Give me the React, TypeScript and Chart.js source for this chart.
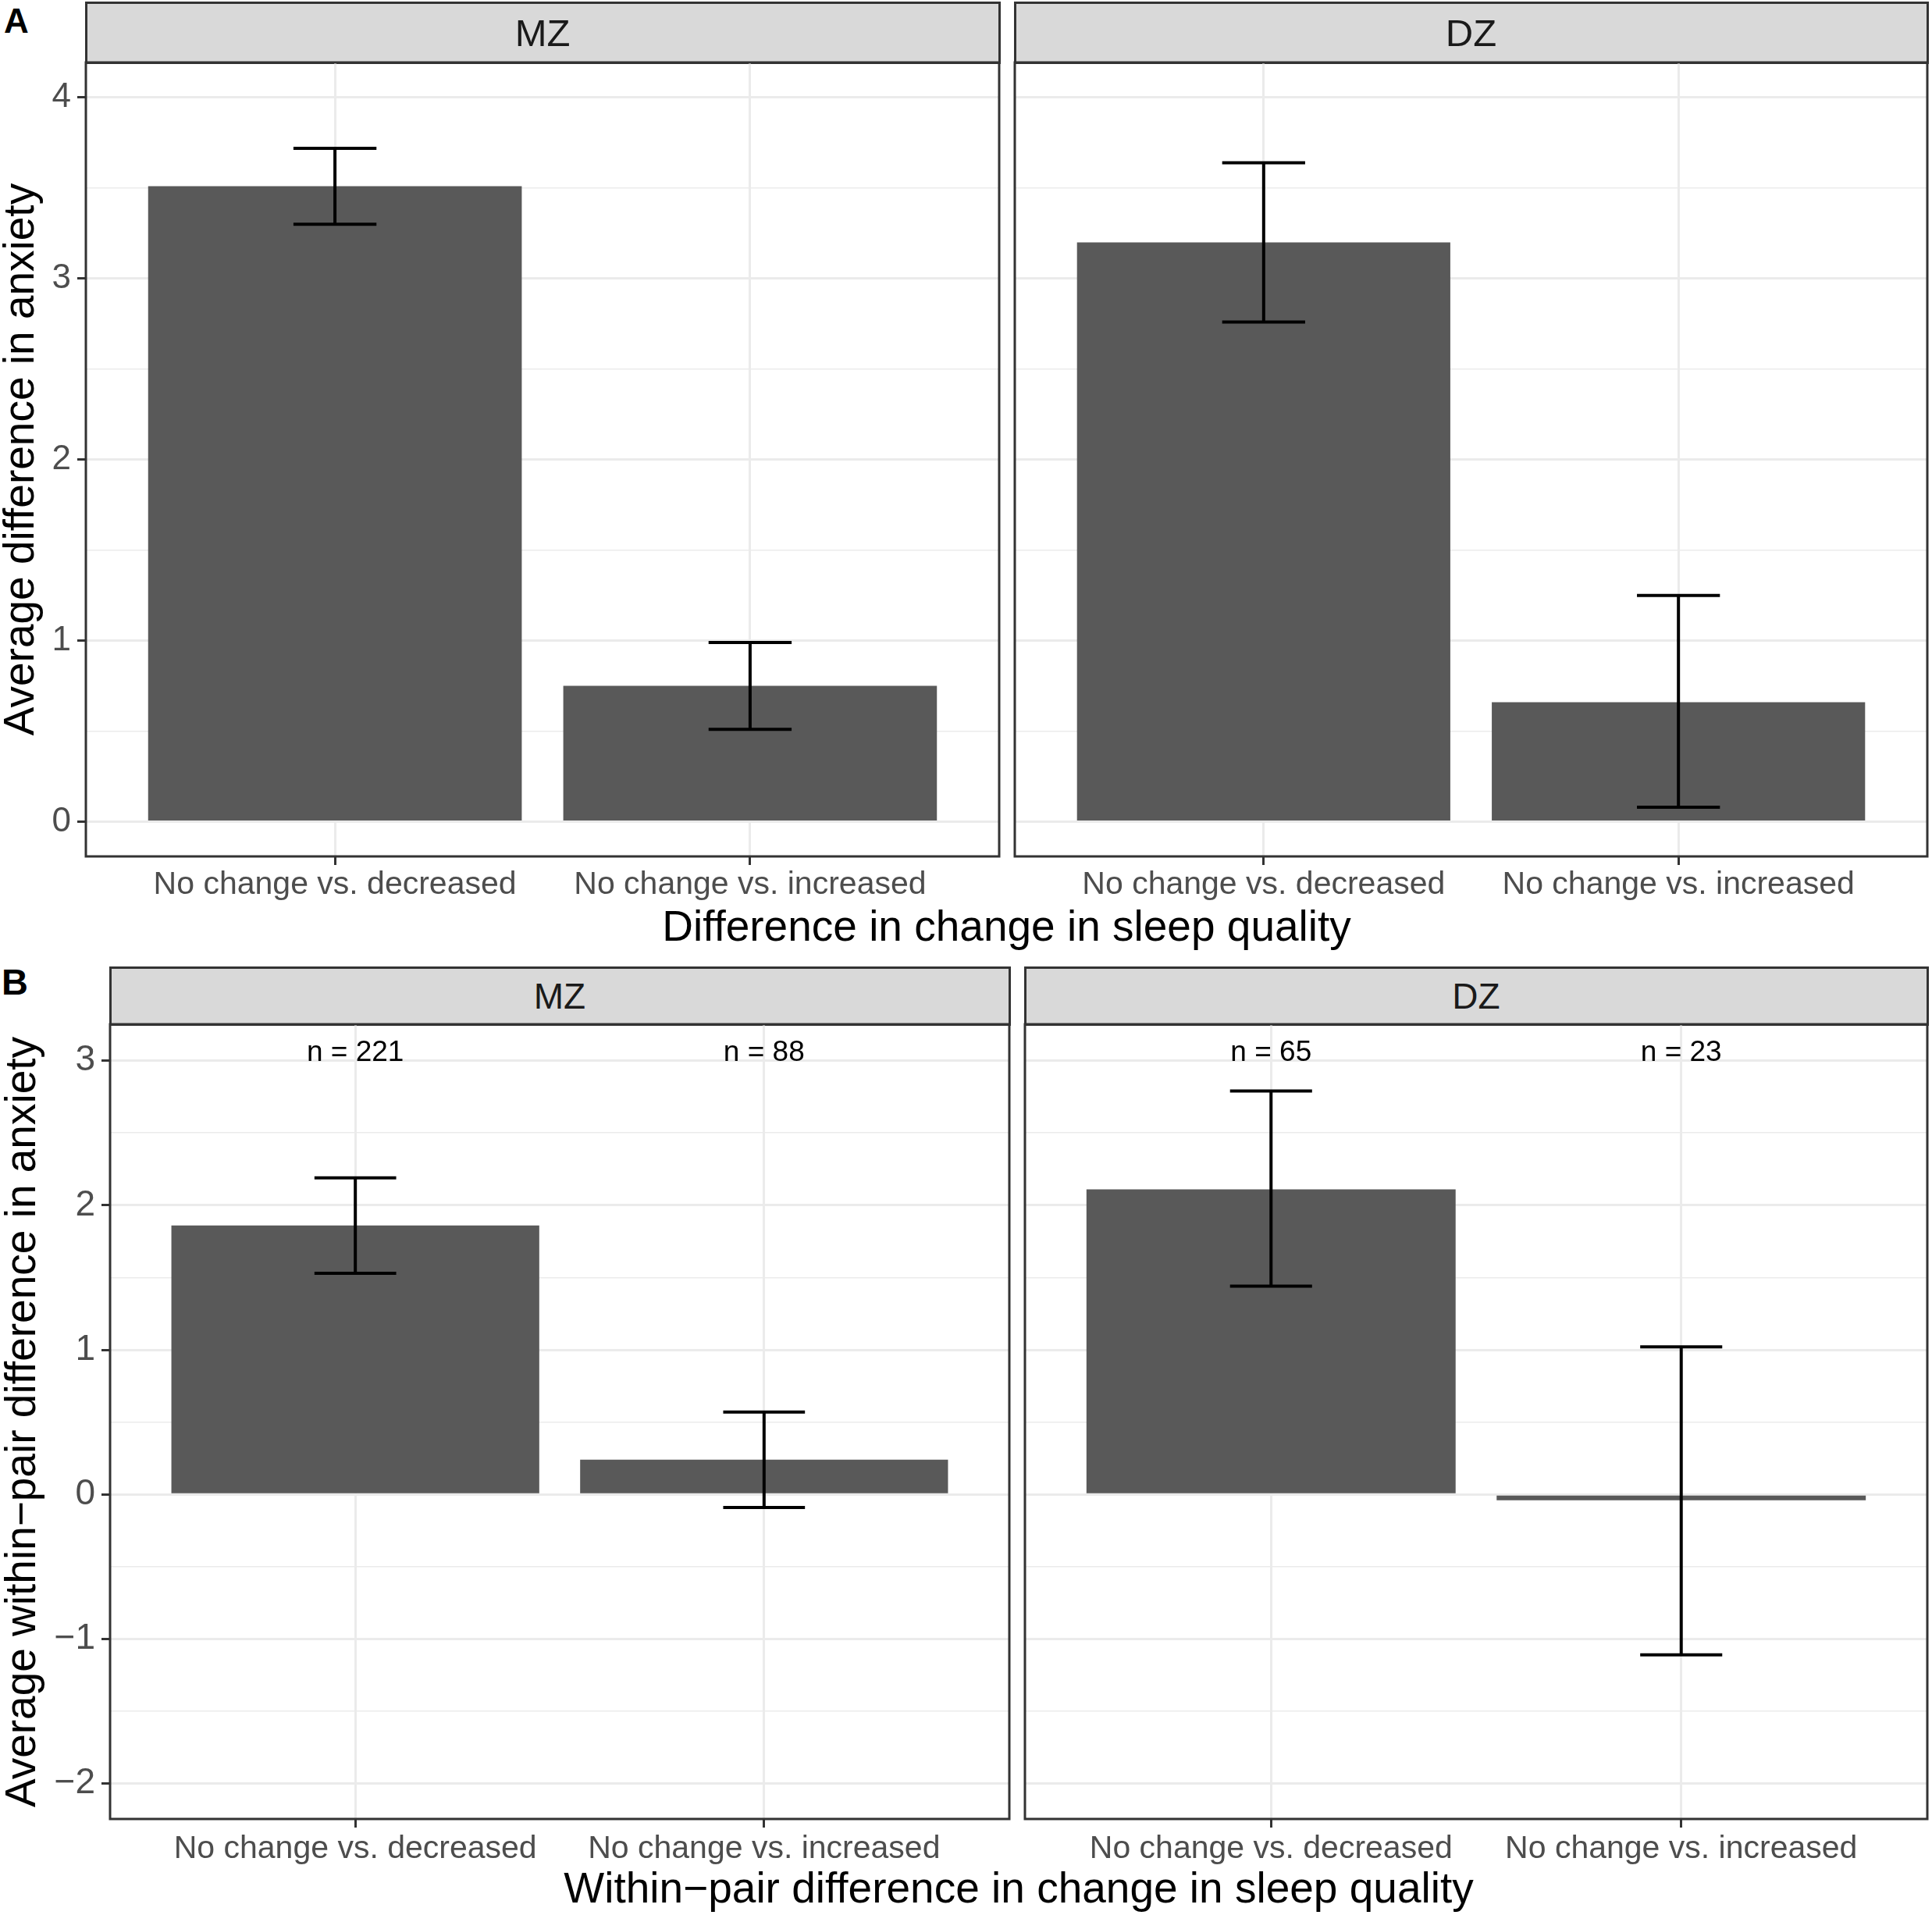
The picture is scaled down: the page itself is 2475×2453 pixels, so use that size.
import { useEffect, useRef, type CSSProperties } from "react";
import { Chart, registerables } from "chart.js";

Chart.register(...registerables);

const FONT = '"Liberation Sans", Arial, Helvetica, sans-serif';
const BAR = "#595959";
const GRID = "#EBEBEB";
const AXIS = "#333333";
const TICK_TEXT = "#4D4D4D";

// x categories (ggplot discrete positions 1 and 2)
const categories = ["No change vs. decreased", "No change vs. increased"];
const xPos = [1, 2];

// A - average difference in anxiety
const aMzMean = [3.51, 0.75];
const aMzLow = [3.3, 0.51];
const aMzHigh = [3.72, 0.99];
const aDzMean = [3.2, 0.66];
const aDzLow = [2.76, 0.08];
const aDzHigh = [3.64, 1.25];
const aTicks = [0, 1, 2, 3, 4];

// B - average within-pair difference in anxiety
const bMzMean = [1.86, 0.24];
const bMzLow = [1.53, -0.09];
const bMzHigh = [2.19, 0.57];
const bDzMean = [2.11, -0.04];
const bDzLow = [1.44, -1.11];
const bDzHigh = [2.79, 1.02];
const bTicks = [-2, -1, 0, 1, 2, 3];
const bMzN = ["n = 221", "n = 88"];
const bDzN = ["n = 65", "n = 23"];
const nLabelY = 3;

const PAD = 6;

type Panel = {
  name: string;
  left: number;
  right: number;
  top: number;
  bottom: number;
  stripTop: number;
  stripFont: number;
  axisW: number;
  axisH: number;
  showY: boolean;
  yMin: number;
  yMax: number;
  yFont: number;
  labelPad: number;
  majors: number[];
  mean: number[];
  low: number[];
  high: number[];
  n?: string[];
};

const rowA = { top: 80, bottom: 1097, stripTop: 3, stripFont: 49, axisH: 80, yMin: -0.192, yMax: 4.194, yFont: 44, labelPad: 1, majors: aTicks };
const rowB = { top: 1312, bottom: 2330, stripTop: 1239, stripFont: 46, axisH: 80, yMin: -2.245, yMax: 3.252, yFont: 46, labelPad: 3, majors: bTicks };

const panels: Panel[] = [
  { ...rowA, name: "MZ", left: 110, right: 1280, axisW: 110, showY: true, mean: aMzMean, low: aMzLow, high: aMzHigh },
  { ...rowA, name: "DZ", left: 1300, right: 2469, axisW: PAD, showY: false, mean: aDzMean, low: aDzLow, high: aDzHigh },
  { ...rowB, name: "MZ", left: 141, right: 1293, axisW: 141, showY: true, mean: bMzMean, low: bMzLow, high: bMzHigh, n: bMzN },
  { ...rowB, name: "DZ", left: 1313, right: 2469, axisW: PAD, showY: false, mean: bDzMean, low: bDzLow, high: bDzHigh, n: bDzN },
];

const fmt = (v: number) => (v < 0 ? "\u2212" + Math.abs(v) : String(v));

function PanelChart({ p }: { p: Panel }) {
  const canvasRef = useRef<HTMLCanvasElement>(null);

  useEffect(() => {
    if (!canvasRef.current) return;

    const minors = p.majors.slice(1).map((v, i) => (v + p.majors[i]) / 2);
    const allTicks = [...p.majors, ...minors].sort((a, b) => a - b);
    const isMajor = (v: number) => p.majors.includes(v);
    const zeroPads = (s: any) => {
      s.paddingTop = 0;
      s.paddingBottom = 0;
      s.paddingLeft = 0;
      s.paddingRight = 0;
    };

    const errorBars = {
      id: "errorBars",
      afterDatasetsDraw(chart: any) {
        const { ctx, scales } = chart;
        const x = scales.x;
        const y = scales.y;
        ctx.save();
        ctx.strokeStyle = "#000000";
        ctx.lineWidth = 4;
        ctx.lineCap = "butt";
        xPos.forEach((xv, i) => {
          const cx = x.getPixelForValue(xv);
          const half = x.getPixelForValue(xv + 0.1) - cx;
          const yl = y.getPixelForValue(p.low[i]);
          const yh = y.getPixelForValue(p.high[i]);
          ctx.beginPath();
          ctx.moveTo(cx, yl);
          ctx.lineTo(cx, yh);
          ctx.moveTo(cx - half, yl);
          ctx.lineTo(cx + half, yl);
          ctx.moveTo(cx - half, yh);
          ctx.lineTo(cx + half, yh);
          ctx.stroke();
        });
        if (p.n) {
          ctx.fillStyle = "#000000";
          ctx.font = `37px ${FONT}`;
          ctx.textAlign = "center";
          ctx.textBaseline = "alphabetic";
          p.n.forEach((t, i) => {
            ctx.fillText(t, x.getPixelForValue(xPos[i]), y.getPixelForValue(nLabelY));
          });
        }
        ctx.restore();
      },
    };

    const frame = {
      id: "frame",
      afterDraw(chart: any) {
        const { ctx, chartArea: a } = chart;
        ctx.save();
        ctx.strokeStyle = AXIS;
        ctx.lineWidth = 3;
        ctx.strokeRect(a.left, a.top, a.right - a.left, a.bottom - a.top);
        ctx.restore();
      },
    };

    const chart = new Chart(canvasRef.current, {
      type: "bar",
      data: {
        datasets: [
          {
            data: xPos.map((x, i) => ({ x, y: p.mean[i] })),
            backgroundColor: BAR,
            borderWidth: 0,
            barPercentage: 0.9,
            categoryPercentage: 1,
          },
        ],
      },
      options: {
        animation: false,
        responsive: true,
        maintainAspectRatio: false,
        layout: { padding: { top: PAD, right: PAD, left: 0, bottom: 0 } },
        plugins: {
          legend: { display: false },
          tooltip: { enabled: false },
        },
        scales: {
          x: {
            type: "linear",
            min: 0.4,
            max: 2.6,
            offset: false,
            afterBuildTicks: (s: any) => {
              s.ticks = xPos.map((v) => ({ value: v }));
            },
            ticks: {
              autoSkip: false,
              maxRotation: 0,
              minRotation: 0,
              padding: p.labelPad,
              color: TICK_TEXT,
              font: { family: FONT, size: 41 },
              callback: (_v: any, i: number) => categories[i],
            },
            grid: {
              offset: false,
              color: GRID,
              lineWidth: 3,
              tickLength: 11,
              tickWidth: 3,
              tickColor: AXIS,
            },
            border: { display: false },
            afterFit: (s: any) => {
              s.height = p.axisH;
              zeroPads(s);
            },
          },
          y: {
            min: p.yMin,
            max: p.yMax,
            afterBuildTicks: (s: any) => {
              s.ticks = allTicks.map((v) => ({ value: v }));
            },
            ticks: {
              display: p.showY,
              autoSkip: false,
              padding: 8,
              color: TICK_TEXT,
              font: { family: FONT, size: p.yFont },
              callback: (v: any) => (isMajor(v) ? fmt(v) : ""),
            },
            grid: {
              color: GRID,
              lineWidth: (c: any) => (isMajor(c.tick?.value) ? 3 : 1.6),
              drawTicks: p.showY,
              tickLength: 11,
              tickWidth: 3,
              tickColor: (c: any) => (isMajor(c.tick?.value) ? AXIS : "rgba(0,0,0,0)"),
            },
            border: { display: false },
            afterFit: (s: any) => {
              s.width = p.axisW;
              zeroPads(s);
            },
          },
        },
      } as any,
      plugins: [errorBars, frame],
    });

    return () => {
      chart.destroy();
    };
  }, [p]);

  const w = p.axisW + (p.right - p.left) + PAD;
  const h = PAD + (p.bottom - p.top) + p.axisH;

  return (
    <div style={{ position: "absolute", left: p.left - p.axisW, top: p.top - PAD, width: w, height: h }}>
      <canvas ref={canvasRef}></canvas>
    </div>
  );
}

type LabelProps = {
  text: string;
  x: number;
  y: number;
  size: number;
  bold?: boolean;
  color?: string;
  align?: "left" | "center";
  rotate?: boolean;
};

// y is the text baseline (or, when rotated, x is the baseline and y the centre)
function Label({ text, x, y, size, bold, color = "#000000", align = "center", rotate }: LabelProps) {
  const base: CSSProperties = {
    position: "absolute",
    whiteSpace: "nowrap",
    fontFamily: FONT,
    fontSize: size,
    lineHeight: `${size}px`,
    fontWeight: bold ? 700 : 400,
    color,
  };
  if (rotate) {
    const w = 1400;
    return (
      <div
        style={{
          ...base,
          width: w,
          height: size,
          textAlign: "center",
          left: x - 0.3465 * size - w / 2,
          top: y - size / 2,
          transform: "rotate(-90deg)",
        }}
      >
        {text}
      </div>
    );
  }
  return (
    <div
      style={{
        ...base,
        left: x,
        top: y - 0.8465 * size,
        transform: align === "center" ? "translateX(-50%)" : undefined,
      }}
    >
      {text}
    </div>
  );
}

function Strip({ p }: { p: Panel }) {
  const mid = (p.stripTop + p.top) / 2;
  return (
    <>
      <div
        style={{
          position: "absolute",
          boxSizing: "border-box",
          left: p.left - 1.5,
          top: p.stripTop - 1.5,
          width: p.right - p.left + 3,
          height: p.top - p.stripTop + 3,
          background: "#D9D9D9",
          border: `3px solid ${AXIS}`,
        }}
      />
      <Label text={p.name} x={(p.left + p.right) / 2} y={mid + 0.358 * p.stripFont} size={p.stripFont} color="#1A1A1A" />
    </>
  );
}

export default function App() {
  return (
    <div
      style={{
        position: "absolute",
        left: 0,
        top: 0,
        width: 2475,
        height: 2453,
        background: "#FFFFFF",
        overflow: "hidden",
      }}
    >
      {panels.map((p, i) => (
        <Strip key={"s" + i} p={p} />
      ))}
      {panels.map((p, i) => (
        <PanelChart key={"c" + i} p={p} />
      ))}

      <Label text="A" x={5} y={42} size={44} bold align="left" />
      <Label text="B" x={2} y={1274} size={47} bold align="left" />

      <Label text="Average difference in anxiety" x={43.5} y={588.5} size={55} rotate />
      <Label text="Difference in change in sleep quality" x={1289.5} y={1205.7} size={55} />

      <Label text="Average within−pair difference in anxiety" x={44.6} y={1821} size={55} rotate />
      <Label text="Within−pair difference in change in sleep quality" x={1305} y={2437.8} size={55} />
    </div>
  );
}
